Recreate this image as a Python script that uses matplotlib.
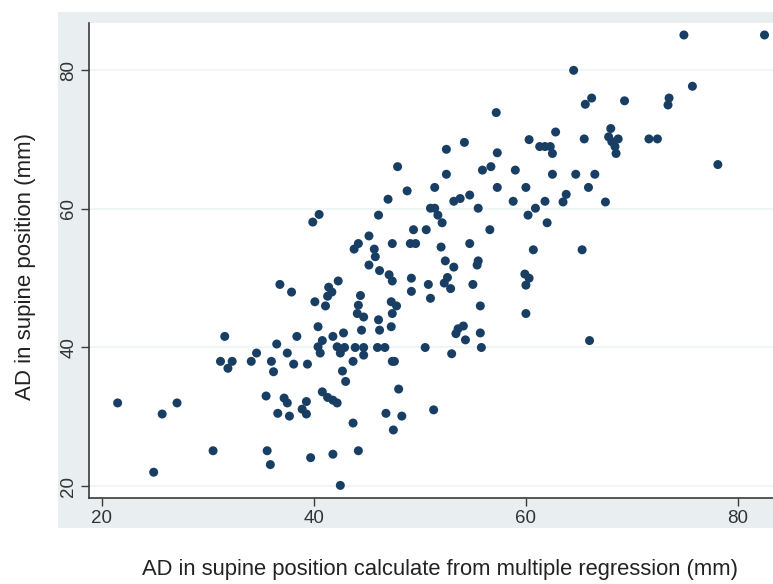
import matplotlib.pyplot as plt
from matplotlib.patches import Rectangle

# predicted AD (x) vs measured AD in supine position (y), mm
ad_predicted = [
    21.5, 24.9, 25.7, 27.1, 30.5, 31.6, 31.2, 32.3, 31.9, 34.1,
    34.6, 35.5, 35.6, 35.9, 36.0, 36.2, 36.5, 36.6, 36.8, 37.2,
    37.5, 37.5, 37.7, 37.9, 38.1, 38.4, 38.9, 39.3, 39.3, 39.4,
    39.7, 39.9, 40.1, 40.4, 40.4, 40.5, 40.6, 40.8, 40.8, 41.1,
    41.3, 41.3, 41.4, 41.7, 41.8, 41.8, 41.8, 42.2, 42.2, 42.3,
    42.5, 42.5, 42.7, 42.8, 42.9, 43.0, 43.7, 43.7, 43.8, 43.9,
    44.1, 44.2, 44.2, 44.2, 44.4, 44.5, 44.7, 44.7, 44.7, 45.2,
    45.2, 45.7, 45.8, 46.0, 46.1, 46.1, 46.2, 46.2, 46.7, 46.8,
    47.0, 47.1, 47.3, 47.3, 47.4, 47.4, 47.4, 47.4, 47.5, 47.9,
    47.8, 48.0, 48.3, 48.8, 49.1, 49.2, 49.2, 49.4, 49.6, 50.5,
    50.6, 50.8, 51.0, 51.0, 51.3, 51.4, 51.4, 51.7, 52.0, 52.1,
    52.3, 52.4, 52.5, 52.5, 52.6, 52.9, 53.0, 53.2, 53.2, 53.4,
    53.6, 53.8, 54.1, 54.2, 54.3, 54.7, 54.7, 55.0, 55.4, 55.5,
    55.5, 55.7, 55.7, 55.8, 55.9, 56.6, 56.7, 57.2, 57.3, 57.3,
    58.8, 59.0, 59.9, 60.0, 60.0, 60.0, 60.2, 60.3, 60.3, 60.7,
    60.9, 61.3, 61.8, 62.3, 61.8, 62.0, 62.5, 62.5, 62.8, 63.5,
    63.8, 64.5, 64.7, 65.3, 65.5, 65.6, 65.9, 66.0, 66.2, 66.5,
    67.5, 67.8, 68.0, 68.1, 68.4, 68.5, 68.7, 69.3, 71.6, 72.4,
    73.4, 73.5, 74.9, 75.7, 78.1, 82.5, 47.6,
]
ad_supine = [
    32.0, 22.0, 30.4, 32.0, 25.1, 41.6, 38.0, 38.0, 37.0, 38.0,
    39.2, 33.0, 25.1, 23.1, 38.0, 36.5, 40.5, 30.5, 49.1, 32.7,
    32.0, 39.2, 30.1, 48.0, 37.6, 41.6, 31.1, 32.2, 30.4, 37.6,
    24.1, 58.1, 46.6, 43.0, 40.1, 59.2, 39.2, 41.0, 33.6, 46.0,
    47.4, 32.8, 48.7, 48.0, 32.4, 24.6, 41.6, 32.0, 40.1, 49.6,
    39.2, 20.1, 36.6, 42.1, 40.0, 35.1, 38.0, 29.1, 54.2, 40.0,
    44.9, 25.1, 55.0, 46.1, 47.5, 42.5, 44.4, 40.0, 38.9, 56.1,
    51.9, 54.2, 53.1, 40.0, 59.1, 44.0, 51.1, 42.5, 40.0, 30.5,
    61.4, 50.5, 46.6, 43.0, 49.6, 44.9, 38.0, 55.0, 28.1, 66.1,
    46.0, 34.0, 30.1, 62.6, 55.0, 50.0, 48.1, 57.0, 55.0, 40.0,
    57.0, 49.1, 60.1, 47.1, 31.0, 63.1, 60.1, 59.1, 54.5, 58.0,
    49.3, 52.5, 68.6, 65.0, 50.1, 48.5, 39.1, 51.6, 61.1, 42.0,
    42.7, 61.5, 43.1, 69.6, 41.1, 62.0, 55.0, 49.1, 51.9, 60.1,
    52.5, 46.0, 42.1, 40.0, 65.6, 57.0, 66.1, 73.9, 68.1, 63.1,
    61.1, 65.6, 50.6, 63.1, 49.0, 44.9, 59.1, 50.0, 70.0, 54.1,
    60.1, 69.0, 69.0, 69.0, 61.1, 58.0, 68.0, 65.0, 71.1, 61.0,
    62.1, 80.0, 65.0, 54.1, 70.1, 75.1, 63.1, 41.0, 76.0, 65.0,
    61.0, 70.4, 71.6, 69.7, 69.0, 68.0, 70.1, 75.6, 70.1, 70.1,
    75.0, 76.0, 85.1, 77.7, 66.4, 85.1, 38.0,
]
x_ticks = [20, 40, 60, 80]
y_ticks = [20, 40, 60, 80]

plt.rcParams["font.family"] = ["Liberation Sans", "DejaVu Sans"]

W, H = 773, 584
fig = plt.figure(figsize=(W / 100, H / 100), dpi=100)
fig.patch.set_facecolor("white")

# stata-like graph region behind the plot
fig.patches.append(Rectangle((58 / W, 1 - 528 / H), (W - 58) / W, (528 - 12) / H,
                             transform=fig.transFigure, facecolor="#e9eff1",
                             edgecolor="none", zorder=-5))

ax = fig.add_axes([89 / W, 1 - 498 / H, (W - 89) / W, (498 - 23) / H])
ax.set_zorder(2)
ax.set_facecolor("white")

ax.scatter(ad_predicted, ad_supine, s=42, color="#183f63", edgecolors="none", zorder=3)

ax.set_xlim(18.8, 83.3)
ax.set_ylim(18.28, 86.83)
ax.set_xticks(x_ticks)
ax.set_yticks(y_ticks)
ax.set_yticklabels([str(t) for t in y_ticks], rotation=90, va="center")
ax.yaxis.grid(True, color="#eef3f4", linewidth=1.2)
ax.set_axisbelow(True)

for side in ["top", "right"]:
    ax.spines[side].set_visible(False)
for side in ["left", "bottom"]:
    ax.spines[side].set_color("#3a3a3a")
    ax.spines[side].set_linewidth(1.2)

ax.tick_params(axis="both", direction="out", length=5.5, width=1, color="#3a3a3a",
               labelsize=13.5, labelcolor="#333333", pad=3)

fig.text(26 / W, 1 - 267 / H, "AD in supine position (mm)", rotation=90,
         ha="center", va="center", fontsize=16, color="#222222")
fig.text(440 / W, 1 - 569 / H,
         "AD in supine position calculate from multiple regression (mm)",
         ha="center", va="center", fontsize=15.8, color="#222222")

fig.savefig("out.png", dpi=100)
